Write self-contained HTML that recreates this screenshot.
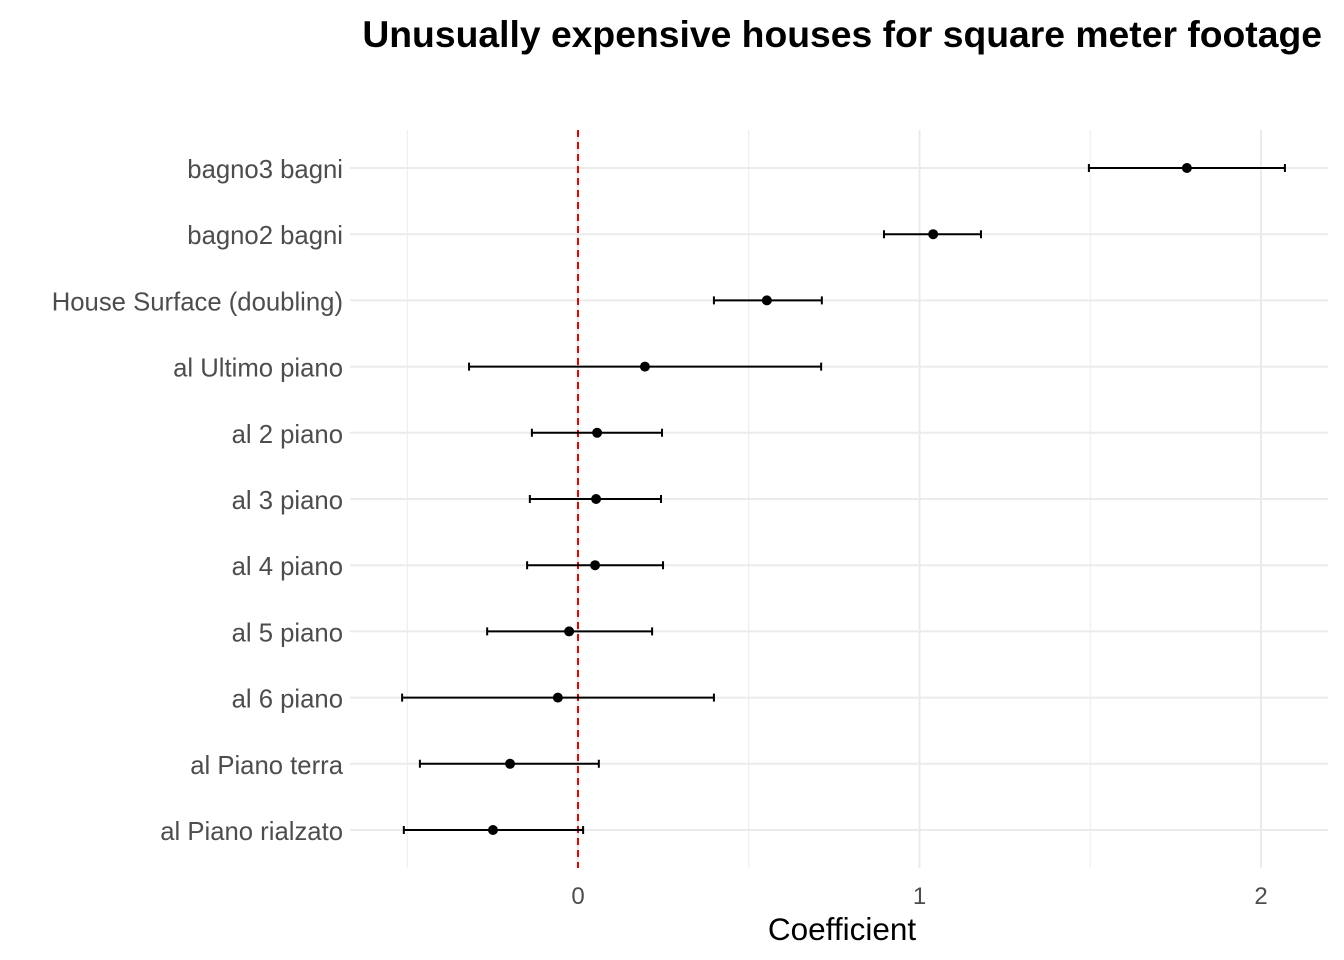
<!DOCTYPE html>
<html><head><meta charset="utf-8"><style>body{margin:0;background:#fff}svg{display:block;font-family:"Liberation Sans",sans-serif}</style></head>
<body>
<svg id="chart" width="1344" height="960" xmlns="http://www.w3.org/2000/svg">
<text x="1322" y="47" text-anchor="end" font-size="37.3" font-weight="bold" fill="#000">Unusually expensive houses for square meter footage</text>
<g id="grid"></g><g id="marks"></g><g id="labels"></g>
<text x="842" y="940" text-anchor="middle" font-size="31.5" fill="#000">Coefficient</text>
</svg>
<script>
const categories=["bagno3 bagni","bagno2 bagni","House Surface (doubling)","al Ultimo piano","al 2 piano","al 3 piano","al 4 piano","al 5 piano","al 6 piano","al Piano terra","al Piano rialzato"];
const estimates=[1.783,1.040,0.553,0.196,0.056,0.053,0.050,-0.026,-0.059,-0.199,-0.249];
const lower=[1.496,0.896,0.398,-0.319,-0.135,-0.141,-0.149,-0.266,-0.515,-0.463,-0.510];
const upper=[2.070,1.180,0.714,0.712,0.246,0.243,0.249,0.217,0.398,0.061,0.015];
const xTicks=[0,1,2];
const xMinor=[-0.5,0.5,1.5];
const NS="http://www.w3.org/2000/svg";
const L=350,R=1328,T=130,B=868;
const x=v=>578+v*341.5;
const y=i=>168+i*66.2;
function mk(tag,attrs,parent){const e=document.createElementNS(NS,tag);for(const k in attrs)e.setAttribute(k,attrs[k]);document.getElementById(parent).appendChild(e);return e;}
xMinor.forEach(v=>{const e=mk('line',{x1:x(v),x2:x(v),y1:T,y2:B,stroke:'#ebebeb','stroke-width':1},'grid');

});
xTicks.forEach(v=>{const e=mk('line',{x1:x(v),x2:x(v),y1:T,y2:B,stroke:'#ebebeb','stroke-width':2},'grid');


const t=mk('text',{x:x(v),y:904,'text-anchor':'middle','font-size':24,fill:'#4d4d4d'},'labels');t.textContent=v;

});
categories.forEach((c,i)=>{const g=mk('line',{x1:L,x2:R,y1:y(i),y2:y(i),stroke:'#ebebeb','stroke-width':2},'grid');


const t=mk('text',{x:343,y:y(i)+10,'text-anchor':'end','font-size':25.7,fill:'#4d4d4d'},'labels');t.textContent=c;

});
const ref=mk('line',{x1:x(0),x2:x(0),y1:T,y2:B,stroke:'#e00','stroke-width':2,'stroke-dasharray':'7,5'},'marks');


categories.forEach((c,i)=>{const yy=y(i);
const eb=mk('path',{d:`M${x(lower[i])},${yy}H${x(upper[i])}M${x(lower[i])},${yy-4}V${yy+4}M${x(upper[i])},${yy-4}V${yy+4}`,stroke:'#000','stroke-width':2,fill:'none'},'marks');


const p=mk('circle',{cx:x(estimates[i]),cy:yy,r:5,fill:'#000'},'marks');

});
</script>
</body></html>
